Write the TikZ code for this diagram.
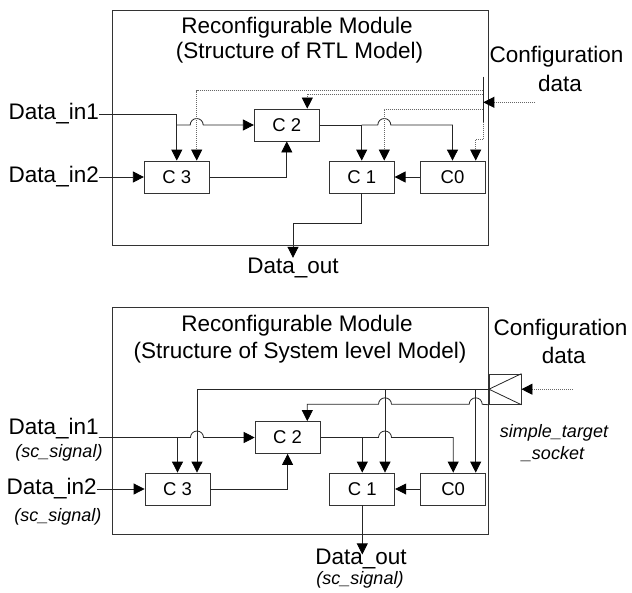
\documentclass[tikz,border=0pt]{standalone}
\usepackage{fontspec}
\setmainfont{Liberation Sans}
\usetikzlibrary{arrows.meta}
\tikzset{
  wire/.style={line width=0.8pt, black!85},
  arr/.style={wire, -{Triangle[length=11pt,width=11pt,color=black]}},
  cfg/.style={line width=0.7pt, gray!80!black, dash pattern=on 1pt off 1pt},
  cfgarr/.style={cfg, -{Triangle[length=11pt,width=11pt,color=black]}},
  blk/.style={draw=black!80, line width=0.8pt, minimum width=65pt, minimum height=32pt, inner sep=0pt, font=\fontsize{18.5}{20}\selectfont},
  modbox/.style={draw=black!80, line width=0.8pt, inner sep=0pt},
  lbl/.style={font=\fontsize{22.5}{26}\selectfont, inner sep=0pt},
  sml/.style={font=\fontsize{18}{20}\selectfont\itshape, inner sep=0pt},
}
\begin{document}
\begin{tikzpicture}[x=1pt,y=-1pt]
\useasboundingbox (0,0) rectangle (632,592);
% ================= top: RTL model =================
\node[modbox, minimum width=376.5pt, minimum height=235pt] (moda) at (300.25,127.5) {};
\node[lbl] (tia) at (297,28) {Reconfigurable Module};
\node[lbl] (tib) at (299.5,53) {(Structure of RTL Model)};
\node[lbl] (cfa1) at (556.5,57) {Configuration};
\node[lbl] (cfa2) at (560,83) {data};
\node[blk] (c3a) at (176.8,177) {C 3};
\node[blk] (c2a) at (286.8,125) {C 2};
\node[blk] (c1a) at (361.7,177) {C 1};
\node[blk] (c0a) at (452.5,177) {C0};
\node[lbl,anchor=east] (in1a) at (99,114) {Data\_in1};
\node[lbl,anchor=east] (in2a) at (99,177) {Data\_in2};
\node[lbl] (outa) at (293,268) {Data\_out};
% data wires
\draw[arr] (in1a.east) -| (c3a.north);
\draw[arr] (c3a.north |- c2a.west) -- (190.2,125) arc[start angle=180,end angle=360,radius=6.5] -- (c2a.west);
\draw[arr] (in2a.east) -- (c3a.west);
\draw[arr] (c3a.east) -| (c2a.south);
\draw[arr] (c2a.east) -| (c1a.north);
\draw[arr] (c1a.north |- c2a.east) -- (377.8,125) arc[start angle=180,end angle=360,radius=6.5] -| (c0a.north);
\draw[arr] (c0a.west) -- (c1a.east);
\draw[arr] (c1a.south) -- ++(0,30) -| (outa.north);
% configuration
\coordinate (bara1) at (483.3,76.7);
\coordinate (bara2) at (483.3,121.7);
\draw[wire] (bara1) -- (bara2);
\coordinate (srca) at (535,102.3);
\draw[cfgarr] (srca) -- (srca -| bara1);
\coordinate (tapa1) at (483.3,90.7);
\coordinate (tapa2) at (483.3,94.3);
\coordinate (tapa3) at (483.3,109.3);
\draw[cfgarr] (tapa1) -| ([xshift=19.9pt]c3a.north);
\draw[cfgarr] (tapa2) -| ([xshift=20.5pt]c2a.north);
\draw[cfgarr] (tapa3) -| ([xshift=22.6pt]c1a.north);
\draw[cfgarr] (bara2) -- (483.3,139.3) -| ([xshift=23.2pt]c0a.north);
% ================= bottom: system level model =================
\node[modbox, minimum width=376.5pt, minimum height=227pt] (modb) at (300.5,420.8) {};
\node[lbl] (tic) at (297,326) {Reconfigurable Module};
\node[lbl] (tid) at (300,352.7) {(Structure of System level Model)};
\node[lbl] (cfb1) at (560.5,329.3) {Configuration};
\node[lbl] (cfb2) at (563.7,355) {data};
\node[draw=black!80, line width=0.8pt, minimum width=31.7pt, minimum height=30.3pt, inner sep=0pt] (sock) at (505.2,389.2) {};
\draw[wire] (sock.north east) -- (sock.west) -- (sock.south east);
\coordinate (srcb) at (572.7,389.2);
\draw[cfgarr] (srcb) -- (sock.east);
\node[sml] (stsa) at (554,432.7) {simple\_target};
\node[sml] (stsb) at (553,454.3) {\_socket};
\node[blk] (c3b) at (177.5,489) {C 3};
\node[blk] (c2b) at (287.6,437.5) {C 2};
\node[blk] (c1b) at (362.3,489) {C 1};
\node[blk] (c0b) at (453.2,489) {C0};
\node[lbl,anchor=east] (in1b) at (98.8,428.3) {Data\_in1};
\node[sml] (sg1) at (59,452.7) {(sc\_signal)};
\node[lbl,anchor=east] (in2b) at (96.8,488.3) {Data\_in2};
\node[sml] (sg2) at (57.9,517.3) {(sc\_signal)};
\node[lbl] (outb) at (361,559.3) {Data\_out};
\node[sml] (sg3) at (360,580) {(sc\_signal)};
% data wires
\draw[arr] (in1b.east |- c2b.west) -- (190.5,437.5) arc[start angle=180,end angle=360,radius=6.5] -- (c2b.west);
\draw[arr] (c3b.north |- c2b.west) -- (c3b.north);
\draw[arr] (in2b.east |- c3b.west) -- (c3b.west);
\draw[arr] (c3b.east) -| (c2b.south);
\draw[arr] (c2b.east) -| (c1b.north);
\draw[arr] (c1b.north |- c2b.east) -- (378.5,437.5) arc[start angle=180,end angle=360,radius=6.5] -| (c0b.north);
\draw[arr] (c0b.west) -- (c1b.east);
\draw[arr] (c1b.south) -- ++(0,49);
% socket wires
\draw[arr] (sock.west) -| ([xshift=19.5pt]c3b.north);
\draw[arr] ([xshift=22.7pt]c1b.north |- sock.west) -- ([xshift=22.7pt]c1b.north);
\draw[arr] ([xshift=22.5pt]c0b.north |- sock.west) -- ([xshift=22.5pt]c0b.north);
\draw[arr] (sock.south west) -- (482.2,404.3) arc[start angle=0,end angle=-180,radius=6.5] -- (391.5,404.3) arc[start angle=0,end angle=-180,radius=6.5] -| ([xshift=19.7pt]c2b.north);
\end{tikzpicture}
\end{document}
